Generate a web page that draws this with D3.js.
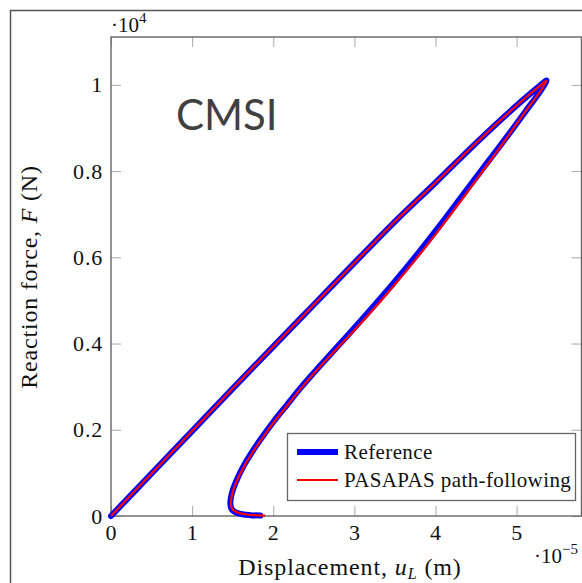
<!DOCTYPE html>
<html>
<head>
<meta charset="utf-8">
<script src="https://cdn.jsdelivr.net/npm/d3@7"></script>
<style>
  html, body { margin: 0; padding: 0; background: #fff; }
  svg { display: block; }
</style>
</head>
<body>
<svg id="chart" width="582" height="583"></svg>
<script>
// Axis ticks (displacement in 1e-5 m, force in 1e4 N)
const xTicks = [0, 1, 2, 3, 4, 5];
const yTicks = [0, 0.2, 0.4, 0.6, 0.8, 1];

// Reference solution: loading branch then snap-back branch
const refU = [0, 0.5, 1.0, 1.5, 2.0, 2.5, 3.0, 3.5, 4.0, 4.5, 5.0, 5.3, 5.37,
  5.28, 5.10, 4.85, 4.60, 4.35, 4.05, 3.75, 3.45, 3.15, 2.86, 2.58, 2.35, 2.17,
  2.00, 1.86, 1.74, 1.64, 1.565, 1.51, 1.478, 1.472, 1.49, 1.54, 1.62, 1.72, 1.84];
const refF = [0, 0.0985, 0.197, 0.2955, 0.393, 0.490, 0.587, 0.683, 0.773, 0.865, 0.952, 1.000, 1.010,
  0.982, 0.936, 0.872, 0.810, 0.748, 0.673, 0.601, 0.533, 0.468, 0.407, 0.349, 0.300, 0.258,
  0.218, 0.182, 0.149, 0.118, 0.090, 0.065, 0.043, 0.027, 0.015, 0.008, 0.004, 0.002, 0.001];

// PASAPAS path-following solution
const pasU = [0, 0.5, 1.0, 1.5, 2.0, 2.5, 3.0, 3.5, 4.0, 4.5, 5.0, 5.3, 5.37,
  5.28, 5.10, 4.86, 4.62, 4.38, 4.08, 3.78, 3.48, 3.18, 2.88, 2.59, 2.36, 2.18,
  2.01, 1.87, 1.75, 1.65, 1.572, 1.516, 1.484, 1.478, 1.50, 1.56, 1.65, 1.77, 1.90];
const pasF = [0, 0.0985, 0.197, 0.2955, 0.393, 0.490, 0.587, 0.683, 0.773, 0.865, 0.952, 1.000, 1.010,
  0.982, 0.936, 0.872, 0.810, 0.748, 0.673, 0.601, 0.533, 0.468, 0.407, 0.349, 0.300, 0.258,
  0.218, 0.182, 0.149, 0.118, 0.090, 0.065, 0.043, 0.027, 0.015, 0.008, 0.004, 0.002, 0.001];

const seriesNames = ["Reference", "PASAPAS path-following"];

const svg = d3.select("#chart");
const serif = "'Liberation Serif', 'DejaVu Serif', serif";

const plotLeft = 111, plotRight = 581.5, plotTop = 37, plotBottom = 516;
const x = d3.scaleLinear().domain([0, 5.8]).range([plotLeft, plotRight]);
const y = d3.scaleLinear().domain([0, 1.111]).range([plotBottom, plotTop]);

// outer frame
svg.append("rect")
  .attr("x", 10.5).attr("y", 10.5)
  .attr("width", 600).attr("height", 600)
  .attr("fill", "none").attr("stroke", "#555").attr("stroke-width", 1.5);

// axes with inward ticks
function styleAxis(g) {
  g.select(".domain").remove();
  g.selectAll(".tick line").attr("stroke", "#aaa").attr("stroke-width", 1);
  g.selectAll(".tick text").attr("fill", "#111")
    .style("font-family", serif).style("font-size", "22px")
    .style("letter-spacing", "0.8px");
}

svg.append("g").attr("transform", `translate(0,${plotBottom})`)
  .call(d3.axisBottom(x).tickValues(xTicks).tickSize(-10).tickSizeOuter(0)
    .tickPadding(8).tickFormat(d3.format("~g")))
  .call(styleAxis);
svg.append("g").attr("transform", `translate(0,${plotTop})`)
  .call(d3.axisTop(x).tickValues(xTicks).tickSize(-10).tickSizeOuter(0).tickFormat(""))
  .call(styleAxis);
svg.append("g").attr("transform", `translate(${plotLeft},0)`)
  .call(d3.axisLeft(y).tickValues(yTicks).tickSize(-10).tickSizeOuter(0)
    .tickPadding(8).tickFormat(d3.format("~g")))
  .call(styleAxis);
svg.append("g").attr("transform", `translate(${plotRight},0)`)
  .call(d3.axisRight(y).tickValues(yTicks).tickSize(-10).tickSizeOuter(0).tickFormat(""))
  .call(styleAxis);

// plot frame
svg.append("rect")
  .attr("x", plotLeft).attr("y", plotTop)
  .attr("width", plotRight - plotLeft).attr("height", plotBottom - plotTop)
  .attr("fill", "none").attr("stroke", "#666").attr("stroke-width", 1.4);

// curves
const line = d3.line()
  .x(d => x(d[0])).y(d => y(d[1]))
  .curve(d3.curveCatmullRom.alpha(0.5));

const refData = refU.map((u, i) => [u, refF[i]]);
const pasData = pasU.map((u, i) => [u, pasF[i]]);

svg.append("path").datum(refData).attr("d", line)
  .attr("fill", "none").attr("stroke", "#0000ff").attr("stroke-width", 6)
  .attr("stroke-linejoin", "round").attr("stroke-linecap", "round");
svg.append("path").datum(pasData).attr("d", line)
  .attr("fill", "none").attr("stroke", "#ff0000").attr("stroke-width", 2.2)
  .attr("stroke-linejoin", "round");

// scale multipliers
const m1 = svg.append("text").attr("x", 111).attr("y", 32)
  .style("font-family", serif).style("font-size", "21px").attr("fill", "#111");
m1.append("tspan").text("·10");
m1.append("tspan").attr("dy", -9).style("font-size", "15px").text("4");

const m2 = svg.append("text").attr("x", 534).attr("y", 563)
  .style("font-family", serif).style("font-size", "21px").attr("fill", "#111");
m2.append("tspan").text("·10");
m2.append("tspan").attr("dy", -9).style("font-size", "15px").text("−5");

// axis titles
const xt = svg.append("text").attr("x", 350).attr("y", 575)
  .attr("text-anchor", "middle")
  .style("font-family", serif).style("font-size", "24px")
  .style("letter-spacing", "0.9px").attr("fill", "#111");
xt.append("tspan").text("Displacement, ");
xt.append("tspan").style("font-style", "italic").text("u");
xt.append("tspan").attr("dy", 4).style("font-style", "italic").style("font-size", "16px").text("L");
xt.append("tspan").attr("dy", -4).text(" (m)");

const yt = svg.append("text")
  .attr("transform", "translate(37,277) rotate(-90)")
  .attr("text-anchor", "middle")
  .style("font-family", serif).style("font-size", "24px")
  .style("letter-spacing", "0.8px").attr("fill", "#111");
yt.append("tspan").text("Reaction force, ");
yt.append("tspan").style("font-style", "italic").text("F");
yt.append("tspan").text(" (N)");

// panel tag
svg.append("text").attr("x", 176).attr("y", 130)
  .style("font-family", "Lato, 'Open Sans', sans-serif").style("font-size", "42px")
  .attr("fill", "#404040").text("CMSI");

// legend
const lg = svg.append("g");
lg.append("rect").attr("x", 287.5).attr("y", 433.5).attr("width", 288).attr("height", 67)
  .attr("fill", "#fff").attr("stroke", "#666").attr("stroke-width", 1.3);
const legendStyles = [
  { color: "#0000ff", width: 6 },
  { color: "#ff0000", width: 2 }
];
seriesNames.forEach((name, i) => {
  const yy = 452 + i * 28;
  lg.append("line").attr("x1", 297).attr("x2", 338).attr("y1", yy).attr("y2", yy)
    .attr("stroke", legendStyles[i].color).attr("stroke-width", legendStyles[i].width);
  lg.append("text").attr("x", 344).attr("y", yy + 7)
    .style("font-family", serif).style("font-size", "21px")
    .style("letter-spacing", "0.4px").attr("fill", "#111")
    .text(name);
});
</script>
</body>
</html>
